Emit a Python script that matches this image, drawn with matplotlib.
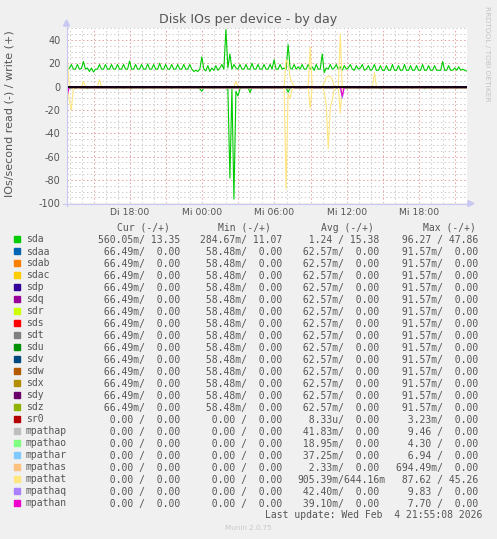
import numpy as np
import matplotlib.pyplot as plt
from matplotlib.patches import Rectangle, Polygon
from matplotlib.lines import Line2D
from matplotlib.ticker import MultipleLocator, FuncFormatter

plt.rcParams['axes.unicode_minus'] = False

W, H = 497, 539

# ----------------------------
# Data: 10 minute samples, time in hours since Di 00:00
# ----------------------------
t_start = 12.8
t_step = 1 / 6
n_samples = 200

sda_write = [
    15, 15.5, 19, 15, 15, 19, 15, 15.5, 21.5, 15, 16, 13, 16, 12.5, 15, 15, 19, 15,
    15, 19, 15, 15, 19, 15, 15, 19, 15, 15, 19, 15, 15, 22, 15, 15, 19, 15,
    15, 19, 15, 15, 19.5, 15, 15, 19, 15, 15, 20, 15, 15, 19, 15, 15, 19, 15,
    15, 19, 15, 15, 19, 15, 15, 19, 15, 13, 14, 13, 15, 25.5, 15, 13.5, 18, 13,
    16, 14, 18, 14, 16, 19, 15, 49, 16, 28, 15, 19, 16, 15, 19, 15, 15, 19,
    15, 15, 20, 15, 15, 19, 15, 15, 19, 15, 15, 19, 15, 23, 15, 15, 19, 15,
    16, 15, 36, 16, 15, 19, 15, 17, 15, 19, 15, 15, 19, 15, 17, 14, 19, 15,
    15, 28, 12, 16, 15, 19, 15, 16, 19, 15, 17, 14, 18, 15, 16, 19, 15, 14,
    18, 15, 16, 19, 14, 15, 18, 14, 15, 19, 14, 14, 18, 14, 14, 18, 14, 14,
    19, 14, 14, 18, 14, 14, 19, 14, 14, 18, 14, 14, 18, 14, 14, 19, 14, 14,
    18, 14, 14, 18, 14, 14, 14, 21.5, 14, 14, 18, 14, 14, 16, 14, 17, 14, 15,
    14, 13.35,
]

sda_read = [
    0.6, 0.8, 0.6, 1.8, 0.6, 0.6, 0.7, 0.6, 0.6, 0.8, 1.8, 0.6, 0.6, 0.7, 0.6, 0.6, 0.8, 0.6,
    0.6, 0.7, 0.6, 0.6, 0.8, 0.6, 1.8, 0.6, 0.6, 0.7, 1.6, 0.6, 0.6, 0.8, 1.8, 0.6, 0.6, 0.7,
    0.6, 0.6, 1.8, 0.6, 0.6, 0.7, 0.6, 1.7, 0.6, 0.6, 0.8, 0.6, 1.6, 0.6, 0.6, 0.7, 1.8, 0.6,
    0.6, 0.8, 0.6, 0.6, 1.5, 0.6, 0.6, 0.7, 0.6, 1.2, 0.6, 0.6, 2.0, 4.0, 1.0, 0.6, 0.7, 0.6,
    0.6, 1.8, 0.6, 0.6, 0.8, 0.6, 0.6, 1.0, 2.5, 78.5, 1.5, 96.3, 4.0, 8.0, 2.0, 0.6, 0.8, 0.6,
    0.6, 5.0, 0.8, 0.6, 0.6, 0.7, 0.6, 1.8, 0.6, 0.6, 0.7, 0.6, 1.5, 0.6, 0.6, 0.8, 0.6, 0.6,
    0.7, 1.2, 4.8, 1.0, 0.6, 0.6, 0.8, 0.6, 1.6, 0.6, 0.6, 0.7, 0.6, 0.6, 1.8, 0.6, 0.6, 0.7,
    0.6, 0.6, 1.5, 0.6, 0.6, 0.8, 0.6, 0.6, 1.6, 0.6, 0.6, 0.7, 0.6, 1.8, 0.6, 0.6, 0.7, 0.6,
    0.6, 1.5, 0.6, 0.6, 0.8, 0.6, 1.6, 0.6, 0.6, 0.7, 0.6, 0.6, 1.8, 0.6, 0.6, 0.7, 0.6, 1.5,
    0.6, 0.6, 0.8, 0.6, 0.6, 1.7, 0.6, 0.6, 0.7, 0.6, 1.6, 0.6, 0.6, 0.8, 0.6, 0.6, 1.8, 0.6,
    0.6, 0.7, 0.6, 1.5, 0.6, 0.6, 0.8, 0.6, 0.6, 1.7, 0.6, 0.6, 0.7, 0.6, 1.6, 0.6, 0.6, 0.7,
    0.6, 0.56,
]

# sparse series (zero outside the listed samples)
mpathat_write_idx = [0, 8, 16, 84, 109, 110, 111, 112, 121, 128, 129, 130, 131, 132, 136, 153]
mpathat_write_val = [24.6, 4.5, 6, 4.5, 23, 20, 8, 3, 34, 3, 8, 9, 9, 6, 45, 12]
mpathat_read_idx = [1, 2, 3, 5, 6, 109, 110, 111, 112, 121, 128, 129, 130, 131, 132, 133, 136]
mpathat_read_val = [12, 20, 1, 1, 1, 88, 6, 10, 2, 18.6, 5, 16, 53, 18, 12, 2, 23]
mpathaq_read_idx = [0, 137]
mpathaq_read_val = [4, 10]
mpathan_read_idx = [0, 137]
mpathan_read_val = [7, 8]

# ----------------------------
# Legend table
# ----------------------------
names = ["sda", "sdaa", "sdab", "sdac", "sdp", "sdq", "sdr", "sds", "sdt", "sdu",
         "sdv", "sdw", "sdx", "sdy", "sdz", "sr0", "mpathap", "mpathao", "mpathar",
         "mpathas", "mpathat", "mpathaq", "mpathan"]
colors = ["#00CC00", "#0066B3", "#FF8000", "#FFCC00", "#330099", "#990099", "#CCFF00",
          "#FF0000", "#808080", "#008F00", "#00487D", "#B35A00", "#B38F00", "#6B006B",
          "#8FB300", "#B30000", "#BEBEBE", "#80FF80", "#80C9FF", "#FFC080", "#FFE680",
          "#AA80FF", "#EE00CC"]

cur_txt = ["560.05m/ 13.35"] + [" 66.49m/  0.00"] * 14 + ["  0.00 /  0.00"] * 8
min_txt = ["284.67m/ 11.07"] + [" 58.48m/  0.00"] * 14 + ["  0.00 /  0.00"] * 8
avg_txt = ["  1.24 / 15.38"] + [" 62.57m/  0.00"] * 14 + [
    "  8.33u/  0.00", " 41.83m/  0.00", " 18.95m/  0.00", " 37.25m/  0.00",
    "  2.33m/  0.00", "905.39m/644.16m", " 42.40m/  0.00", " 39.10m/  0.00"]
max_txt = [" 96.27 / 47.86"] + [" 91.57m/  0.00"] * 14 + [
    "  3.23m/  0.00", "  9.46 /  0.00", "  4.30 /  0.00", "  6.94 /  0.00",
    "694.49m/  0.00", " 87.62 / 45.26", "  9.83 /  0.00", "  7.70 /  0.00"]

# average read rate of the devices that stay flat on the graph
flat_names = names[1:20]
flat_read = [0.06257] * 14 + [8.33e-6, 0.04183, 0.01895, 0.03725, 0.00233]

xtick_hours = [18, 24, 30, 36, 42]
xtick_labels = ["Di 18:00", "Mi 00:00", "Mi 06:00", "Mi 12:00", "Mi 18:00"]

# ----------------------------
# Build series
# ----------------------------
t = t_start + np.arange(n_samples) * t_step


def sparse(idx, val):
    arr = np.zeros(n_samples)
    arr[idx] = val
    return arr


series = {"sda": (np.array(sda_write), np.array(sda_read))}
for name, r in zip(flat_names, flat_read):
    series[name] = (np.zeros(n_samples), np.full(n_samples, r))
series["mpathat"] = (sparse(mpathat_write_idx, mpathat_write_val),
                     sparse(mpathat_read_idx, mpathat_read_val))
series["mpathaq"] = (np.zeros(n_samples), sparse(mpathaq_read_idx, mpathaq_read_val))
series["mpathan"] = (np.zeros(n_samples), sparse(mpathan_read_idx, mpathan_read_val))


def fx(x):
    return x / W


def fy(y):
    return 1 - y / H


TXT = "#555555"
AXC = "#c8c8f0"

fig = plt.figure(figsize=(W / 100, H / 100), dpi=100, facecolor="#f0f0f0")
ax = fig.add_axes([fx(67), fy(203.3), 400 / W, 175 / H])
ax.set_facecolor("white")
for s in ax.spines.values():
    s.set_visible(False)

ax.set_xlim(12.77, 45.99)
ax.set_ylim(-100, 50)
ax.xaxis.set_major_locator(MultipleLocator(3))
ax.xaxis.set_minor_locator(MultipleLocator(1))
ax.yaxis.set_major_locator(MultipleLocator(20))
ax.yaxis.set_minor_locator(MultipleLocator(5))
ax.xaxis.set_major_formatter(FuncFormatter(
    lambda v, p: xtick_labels[xtick_hours.index(int(round(v)))] if int(round(v)) in xtick_hours else ""))
ax.grid(which="major", color="#e8a0a0", lw=0.7, ls=(0, (1.5, 2.5)))
ax.grid(which="minor", color="#cccccc", lw=0.7, ls=(0, (1.5, 2.5)))
ax.set_axisbelow(True)
ax.tick_params(which="both", length=0, colors=TXT)
ax.tick_params(axis="y", labelsize=7, pad=4.5)
ax.tick_params(axis="x", labelsize=6.7, pad=3.5)

for name, col in zip(names, colors):
    w, r = series[name]
    ax.plot(t, w, color=col, lw=0.8)
    ax.plot(t, -r, color=col, lw=0.8)
ax.axhline(0, color="black", lw=1.3)

# axis lines and arrows
fig.add_artist(Line2D([fx(66.5), fx(66.5)], [fy(25), fy(206)], color=AXC, lw=0.8))
fig.add_artist(Line2D([fx(63), fx(470)], [fy(203.5), fy(203.5)], color=AXC, lw=0.8))
fig.add_artist(Polygon([[fx(63.5), fy(26)], [fx(69.5), fy(26)], [fx(66.5), fy(20)]],
                       closed=True, color=AXC, transform=fig.transFigure))
fig.add_artist(Polygon([[fx(468), fy(200.5)], [fx(468), fy(206.5)], [fx(474), fy(203.5)]],
                       closed=True, color=AXC, transform=fig.transFigure))

# titles
fig.text(fx(248.5), fy(23.3), "Disk IOs per device - by day", ha="center", va="baseline",
         fontsize=9.1, color=TXT)
fig.text(fx(10), fy(113.5), "IOs/second read (-) / write (+)", rotation=90,
         ha="center", va="center", fontsize=8, color=TXT)
fig.text(fx(487.5), fy(53.5), "RRDTOOL / TOBI OETIKER", rotation=270,
         ha="center", va="center", fontsize=5.4, color="#c4c4c4")

# legend table
mono = "DejaVu Sans Mono"
headers = [("Cur (-/+)", 117), ("Min (-/+)", 218), ("Avg (-/+)", 321), ("Max (-/+)", 423)]
for txt, x in headers:
    fig.text(fx(x), fy(231), txt, family=mono, fontsize=7, color=TXT, va="baseline")

col_x = [98, 200, 297, 396]
for k, name in enumerate(names):
    yb = 242.5 + 12 * k
    fig.add_artist(Rectangle((fx(14), fy(yb - 0.5)), 6 / W, 6 / H, color=colors[k],
                             transform=fig.transFigure))
    fig.text(fx(26), fy(yb), name, family=mono, fontsize=7, color=TXT, va="baseline")
    for x, col in zip(col_x, [cur_txt, min_txt, avg_txt, max_txt]):
        fig.text(fx(x), fy(yb), col[k], family=mono, fontsize=7, color=TXT, va="baseline")

fig.text(fx(482), fy(518.3), "Last update: Wed Feb  4 21:55:08 2026", family=mono,
         fontsize=7, color=TXT, ha="right", va="baseline")
fig.text(fx(248), fy(530), "Munin 2.0.75", fontsize=5.1, color="#c8c8c8",
         ha="center", va="baseline")

fig.savefig("out.png", dpi=100, facecolor=fig.get_facecolor())
